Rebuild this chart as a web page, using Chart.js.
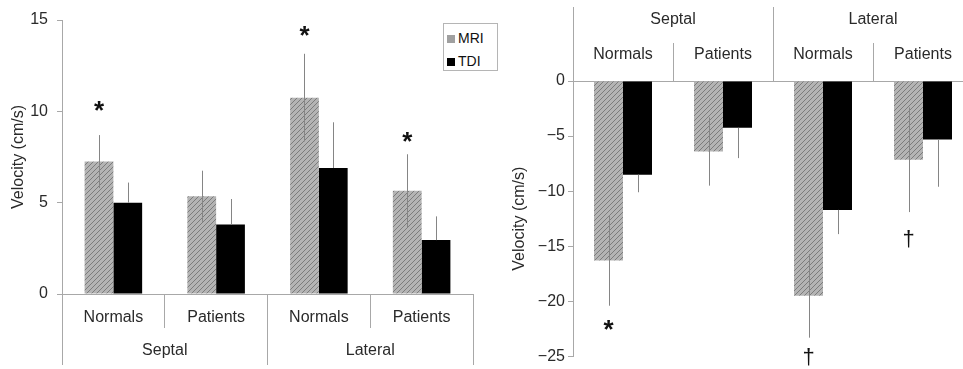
<!DOCTYPE html>
<html>
<head>
<meta charset="utf-8">
<script src="https://cdn.jsdelivr.net/npm/chart.js@4.4.1/dist/chart.umd.min.js"></script>
<style>
  body { margin: 0; background: #fff; width: 963px; height: 369px; overflow: hidden; position: relative; }
  #left { position: absolute; left: 0; top: 0; }
  #right { position: absolute; left: 480px; top: 0; }
  #legend {
    position: absolute; left: 443px; top: 23px; width: 55px; height: 48px;
    border: 1px solid #b5b5b5; background: #fff; padding: 3px 0 0 3px; box-sizing: border-box;
    font: 14px "Liberation Sans", Arial, sans-serif; color: #111;
  }
  #legend div { height: 23px; line-height: 23px; }
  .sw { display: inline-block; width: 8px; height: 8px; margin-right: 3px; vertical-align: 0px; }
  .sw.mri { background: #a0a0a0; }
  .sw.tdi { background: #000; }
</style>
</head>
<body>
<canvas id="left" width="480" height="369"></canvas>
<canvas id="right" width="500" height="369"></canvas>
<div id="legend">
  <div><span class="sw mri"></span>MRI</div>
  <div><span class="sw tdi"></span>TDI</div>
</div>
<script>
const groups = ['Normals', 'Patients', 'Normals', 'Patients'];
const regions = ['Septal', 'Lateral'];

// left panel (positive velocities)
const posMri = [7.25, 5.35, 10.75, 5.65];
const posMriSd = [1.45, 1.4, 2.4, 2.0];
const posTdi = [5.0, 3.8, 6.9, 2.95];
const posTdiSd = [1.1, 1.4, 2.5, 1.3];
const posMarks = ['*', '', '*', '*'];
const posMarkAt = [10.2, null, 14.3, 8.5];

// right panel (negative velocities)
const negMri = [-16.3, -6.4, -19.5, -7.15];
const negMriSd = [4.1, 3.1, 3.8, 4.75];
const negTdi = [-8.5, -4.25, -11.7, -5.3];
const negTdiSd = [1.6, 2.75, 2.2, 4.3];
const negMarks = ['*', '', '\u2020', '\u2020'];
const negMarkAt = [-22.3, null, -24.7, -14.0];

const FONT = '"Liberation Sans", Arial, Helvetica, sans-serif';
Chart.defaults.font.family = FONT;
Chart.defaults.font.size = 16;
Chart.defaults.color = '#2a2a2a';

// diagonal hatch for the MRI bars
function makeHatch() {
  const c = document.createElement('canvas');
  c.width = c.height = 5;
  const g = c.getContext('2d');
  g.fillStyle = '#b4b4b4';
  g.fillRect(0, 0, 5, 5);
  g.strokeStyle = '#7c7c7c';
  g.lineWidth = 1;
  g.beginPath();
  g.moveTo(0, 5); g.lineTo(5, 0);
  g.moveTo(-1, 1); g.lineTo(1, -1);
  g.moveTo(4, 6); g.lineTo(6, 4);
  g.stroke();
  return g.createPattern(c, 'repeat');
}
const hatch = makeHatch();

// error bars plus significance marks
const barExtras = {
  id: 'barExtras',
  afterDatasetsDraw(chart, args, opts) {
    const ctx = chart.ctx;
    const y = chart.scales.y;
    ctx.save();
    ctx.strokeStyle = '#858585';
    ctx.lineWidth = 1;
    chart.data.datasets.forEach((ds, i) => {
      chart.getDatasetMeta(i).data.forEach((bar, j) => {
        const v = ds.data[j];
        const e = ds.errors[j];
        const s = Math.sign(v);
        const from = ds.errorThrough ? v - s * e : v;
        const x = Math.round(bar.x) + 0.5;
        ctx.beginPath();
        ctx.moveTo(x, y.getPixelForValue(from));
        ctx.lineTo(x, y.getPixelForValue(v + s * e));
        ctx.stroke();
      });
    });
    const mri = chart.getDatasetMeta(0).data;
    ctx.fillStyle = '#111';
    ctx.textAlign = 'center';
    ctx.textBaseline = 'alphabetic';
    opts.marks.forEach((m, j) => {
      if (!m) return;
      const star = m === '*';
      const size = star ? 26 : 22;
      ctx.font = (star ? 'bold ' : '') + size + 'px ' + FONT;
      const py = y.getPixelForValue(opts.markAt[j]);
      ctx.fillText(m, mri[j].x, py + size * (star ? 0.45 : 0.5));
    });
    ctx.restore();
  }
};

function datasets(mri, mriSd, tdi, tdiSd) {
  return [
    { label: 'MRI', data: mri, errors: mriSd, errorThrough: true, backgroundColor: hatch },
    { label: 'TDI', data: tdi, errors: tdiSd, errorThrough: false, backgroundColor: '#000' }
  ];
}

const axisGray = '#a8a8a8';

new Chart(document.getElementById('left'), {
  type: 'bar',
  data: { labels: groups, datasets: datasets(posMri, posMriSd, posTdi, posTdiSd) },
  plugins: [barExtras],
  options: {
    responsive: false,
    animation: false,
    categoryPercentage: 0.56,
    barPercentage: 1,
    layout: { padding: { left: 0, right: 7, top: 20, bottom: 4 } },
    plugins: {
      legend: { display: false },
      tooltip: { enabled: false },
      barExtras: { marks: posMarks, markAt: posMarkAt }
    },
    scales: {
      x: {
        position: 'bottom',
        grid: { drawOnChartArea: false, tickLength: 34, color: axisGray, offset: true },
        border: { color: axisGray },
        ticks: { padding: -20 },
        afterFit: s => { s.height = 34; }
      },
      x2: {
        type: 'category',
        labels: regions,
        position: 'bottom',
        offset: true,
        grid: { drawOnChartArea: false, tickLength: 37, color: axisGray, offset: true },
        border: { display: false },
        ticks: { padding: -24 },
        afterFit: s => { s.height = 37; }
      },
      y: {
        min: 0,
        max: 15,
        ticks: { stepSize: 5, padding: 9 },
        grid: { drawOnChartArea: false, tickLength: 5, color: axisGray },
        border: { color: axisGray },
        title: { display: true, text: 'Velocity (cm/s)', padding: { top: 9, bottom: 0 } },
        afterFit: s => { s.width = 62; }
      }
    }
  }
});

new Chart(document.getElementById('right'), {
  type: 'bar',
  data: { labels: groups, datasets: datasets(negMri, negMriSd, negTdi, negTdiSd) },
  plugins: [barExtras],
  options: {
    responsive: false,
    animation: false,
    categoryPercentage: 0.58,
    barPercentage: 1,
    layout: { padding: { left: 0, right: 7, top: 7, bottom: 11 } },
    plugins: {
      legend: { display: false },
      tooltip: { enabled: false },
      barExtras: { marks: negMarks, markAt: negMarkAt }
    },
    scales: {
      x: {
        position: 'top',
        grid: { drawOnChartArea: false, tickLength: 38, color: axisGray, offset: true },
        border: { color: axisGray, dash: [3, 2] },
        ticks: { padding: -21 },
        afterFit: s => { s.height = 38; }
      },
      x2: {
        type: 'category',
        labels: regions,
        position: 'top',
        offset: true,
        grid: { drawOnChartArea: false, tickLength: 36, color: axisGray, offset: true },
        border: { display: false },
        ticks: { padding: -22 },
        afterFit: s => { s.height = 36; }
      },
      y: {
        min: -25,
        max: 0,
        ticks: { stepSize: 5, padding: 3, callback: v => String(v).replace('-', '\u2212') },
        grid: { drawOnChartArea: false, tickLength: 5, color: axisGray },
        border: { color: axisGray },
        title: { display: true, text: 'Velocity (cm/s)', padding: { top: 30, bottom: 0 } },
        afterFit: s => { s.width = 93; }
      }
    }
  }
});
</script>
</body>
</html>
